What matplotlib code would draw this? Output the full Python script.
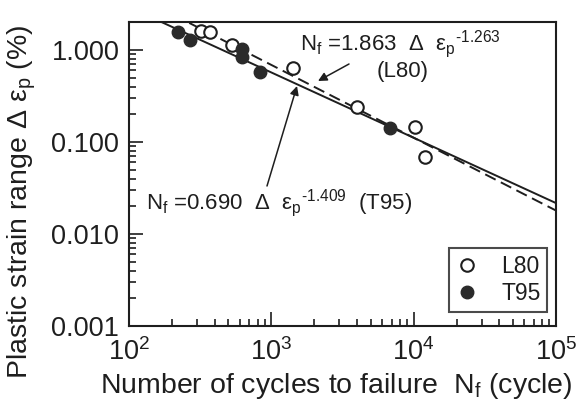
import matplotlib
matplotlib.use("Agg")
import matplotlib.pyplot as plt
from matplotlib.ticker import LogLocator, FixedLocator, NullFormatter

plt.rcParams['font.family'] = ['Liberation Sans', 'DejaVu Sans']
plt.rcParams['mathtext.fontset'] = 'custom'
plt.rcParams['mathtext.rm'] = 'Liberation Sans'
plt.rcParams['mathtext.it'] = 'Liberation Sans:italic'
plt.rcParams['mathtext.default'] = 'regular'

# data
l80_cycles = [321, 371, 529, 1420, 4000, 10230, 12000]
l80_strain = [1.61, 1.57, 1.13, 0.637, 0.239, 0.145, 0.068]

t95_cycles = [221, 268, 622, 622, 834, 6820]
t95_strain = [1.57, 1.29, 1.03, 0.84, 0.575, 0.141]

# fitted lines (end points, from the printed equations)
fit_cycles = [100, 100000]
l80_fit = [4.27, 0.0180]
t95_fit = [2.93, 0.0217]

y_ticks = [0.001, 0.01, 0.1, 1.0]
y_labels = ['0.001', '0.010', '0.100', '1.000']
x_ticks = [1e2, 1e3, 1e4, 1e5]
x_labels = ['10$^{2}$', '10$^{3}$', '10$^{4}$', '10$^{5}$']

ink = '#1e1e1e'
W, H = 584, 420


def fig_xy(px, py):
    # pixel position (from top left) -> figure fraction
    return (px / W, 1 - py / H)


fig = plt.figure(figsize=(5.84, 4.2), dpi=100)
ax = fig.add_axes([129 / W, 1 - 326 / H, 427 / W, 304 / H])

ax.plot(fit_cycles, t95_fit, '-', color=ink, lw=1.4, zorder=2)
ax.plot(fit_cycles, l80_fit, '--', color=ink, lw=1.4, dashes=(6, 3), zorder=2)

ax.plot(l80_cycles, l80_strain, 'o', ms=9, mfc='white', mec=ink, mew=1.5,
        ls='none', label='L80', zorder=3)
ax.plot(t95_cycles, t95_strain, 'o', ms=9, mfc='#2a2a2a', mec='#2a2a2a',
        ls='none', label='T95', zorder=3)

ax.set_xscale('log')
ax.set_yscale('log')
ax.set_xlim(1e2, 1e5)
ax.set_ylim(0.001, 2.02)

ax.xaxis.set_major_locator(FixedLocator(x_ticks))
ax.set_xticklabels(x_labels)
ax.yaxis.set_major_locator(FixedLocator(y_ticks))
ax.set_yticklabels(y_labels)
ax.xaxis.set_minor_locator(LogLocator(base=10, subs=range(2, 10)))
ax.yaxis.set_minor_locator(LogLocator(base=10, subs=range(2, 10)))
ax.xaxis.set_minor_formatter(NullFormatter())
ax.yaxis.set_minor_formatter(NullFormatter())

ax.tick_params(which='both', direction='in', top=False, right=False,
               color=ink, width=1.2)
ax.tick_params(which='major', length=10, labelsize=19.5, labelcolor=ink)
ax.tick_params(which='minor', length=5)
ax.tick_params(axis='x', which='major', pad=9)
ax.tick_params(axis='y', which='major', pad=7)
for sp in ax.spines.values():
    sp.set_linewidth(1.5)
    sp.set_color(ink)

# equation labels
fig.text(*fig_xy(300, 44),
         r'N$_f$ =1.863  $\Delta$  $\varepsilon_{p}$$^{\text{-1.263}}$',
         fontsize=16, color=ink, ha='left', va='center')
fig.text(*fig_xy(403, 71), '(L80)', fontsize=16, color=ink,
         ha='center', va='center')
fig.text(*fig_xy(146, 203),
         r'N$_f$ =0.690  $\Delta$  $\varepsilon_{p}$$^{\text{-1.409}}$  (T95)',
         fontsize=16, color=ink, ha='left', va='center')

arrow = dict(arrowstyle='-|>', color=ink, lw=1.1, shrinkA=0, shrinkB=0,
             mutation_scale=13)
ax.annotate('', xy=fig_xy(318, 81), xycoords='figure fraction',
            xytext=fig_xy(349, 64), textcoords='figure fraction',
            arrowprops=arrow)
ax.annotate('', xy=fig_xy(297, 86), xycoords='figure fraction',
            xytext=fig_xy(267, 186), textcoords='figure fraction',
            arrowprops=arrow)

leg = ax.legend(loc='lower right', bbox_to_anchor=(0.98, 0.045),
                fontsize=16.5, frameon=True, fancybox=False, edgecolor=ink,
                handlelength=1.0, handletextpad=1.0, borderpad=0.3,
                labelspacing=0.2, borderaxespad=0)
leg.get_frame().set_linewidth(1.5)
for t in leg.get_texts():
    t.set_color(ink)

fig.text(*fig_xy(22, 202),
         r'Plastic strain range $\Delta$ $\varepsilon_p$ (%)',
         rotation=90, fontsize=20.5, color=ink, ha='center', va='center')
fig.text(*fig_xy(336, 386),
         r'Number of cycles to failure  N$_f$ (cycle)',
         fontsize=20.5, color=ink, ha='center', va='center')

fig.savefig('out.png', dpi=100)
